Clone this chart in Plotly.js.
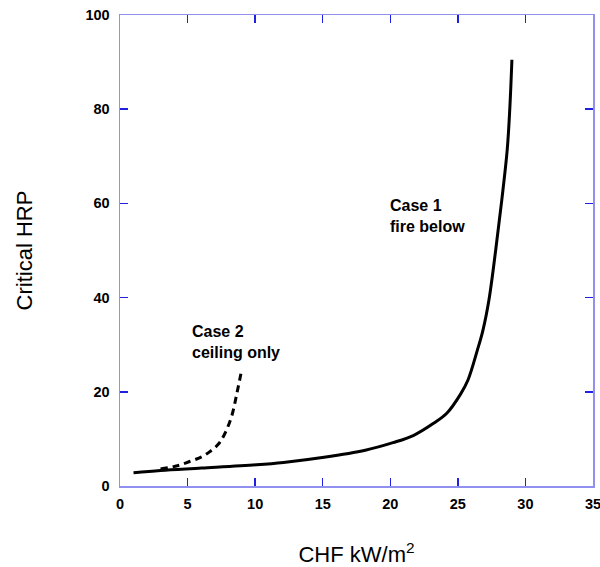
<!DOCTYPE html>
<html><head><meta charset="utf-8">
<script src="https://cdn.plot.ly/plotly-3.0.1.min.js"></script>
<style>html,body{margin:0;padding:0;background:#fff}#chart{width:600px;height:567px}</style>
</head><body><div id="chart"></div>
<script>
// Case 1: fire below (solid)
const case1X = [1, 3, 6.05, 10.1, 12.1, 15.1, 18.15, 20.2, 21.7, 23.2, 24.2, 25.2, 25.75, 26.45, 26.85, 27.3, 27.8, 28.25, 28.65, 28.85, 29.0];
const case1Y = [2.8, 3.3, 3.8, 4.5, 5, 6.1, 7.6, 9.2, 10.7, 13.3, 15.5, 19.5, 22.5, 28.9, 33, 39.5, 50.1, 60.7, 71.3, 80.5, 90.5];
// Case 2: ceiling only (dashed)
const case2X = [3.0, 4.25, 5.15, 6.05, 6.65, 7.25, 7.65, 8.25, 8.65, 9.0];
const case2Y = [3.6, 4.3, 5.2, 6.2, 7.3, 8.8, 10.5, 14.7, 19.7, 24.6];
const xTicks = [0, 5, 10, 15, 20, 25, 30, 35];
const yTicks = [0, 20, 40, 60, 80, 100];

const font = 'Arial, "Liberation Sans", sans-serif';
const traces = [
  {x: case1X, y: case1Y, mode: 'lines', line: {color: '#000', width: 3, shape: 'spline'}, name: 'Case 1', cliponaxis: false},
  {x: case2X, y: case2Y, mode: 'lines', line: {color: '#000', width: 3, dash: '7px,5px', shape: 'spline'}, name: 'Case 2'}
];
const axisCommon = {
  showline: true, linecolor: '#9090f0', linewidth: 1.5, mirror: 'ticks',
  ticks: 'inside', ticklen: 8, tickcolor: '#2020e0', tickwidth: 1.5,
  showgrid: false, zeroline: false, ticklabeloverflow: 'allow',
  tickfont: {family: font, size: 14.5, color: '#000', weight: 'bold'}
};
const layout = {
  width: 600, height: 567,
  margin: {l: 120, r: 7, t: 15, b: 81},
  paper_bgcolor: '#fff', plot_bgcolor: '#fff',
  showlegend: false,
  xaxis: Object.assign({}, axisCommon, {
    range: [0, 35], tickvals: xTicks, ticktext: xTicks.map(String), ticklabelstandoff: 4,
    title: {text: 'CHF kW/m<sup>2</sup>', font: {family: font, size: 22, color: '#000'}, standoff: 40}
  }),
  yaxis: Object.assign({}, axisCommon, {
    range: [0, 100], tickvals: yTicks, ticktext: yTicks.map(String), ticklabelstandoff: 6,
    title: {text: 'Critical HRP', font: {family: font, size: 22, color: '#000'}, standoff: 46}
  }),
  annotations: [
    {x: 5.18, y: 30.6, xref: 'x', yref: 'y', xanchor: 'left', yanchor: 'middle', showarrow: false, align: 'left',
     text: 'Case 2<br>ceiling only', font: {family: font, size: 16, color: '#000', weight: 'bold'}},
    {x: 19.84, y: 57.3, xref: 'x', yref: 'y', xanchor: 'left', yanchor: 'middle', showarrow: false, align: 'left',
     text: 'Case 1<br>fire below', font: {family: font, size: 16, color: '#000', weight: 'bold'}}
  ]
};
Plotly.newPlot('chart', traces, layout, {displayModeBar: false, staticPlot: true});
</script></body></html>
